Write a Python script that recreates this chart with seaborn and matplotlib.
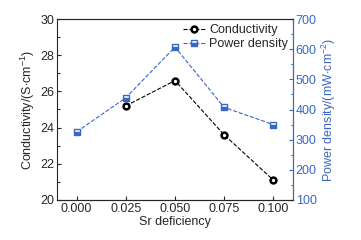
import matplotlib
matplotlib.use("Agg")
import matplotlib.pyplot as plt
import seaborn as sns
import pandas as pd
from matplotlib.ticker import MultipleLocator

sr = [0.000, 0.025, 0.050, 0.075, 0.100]
cond_x = [0.025, 0.050, 0.075, 0.100]
conductivity = [25.2, 26.6, 23.6, 21.1]
power_density = [326, 439, 607, 407, 350]
xticks = [0.000, 0.025, 0.050, 0.075, 0.100]
xticklabels = ["0.000", "0.025", "0.050", "0.075", "0.100"]

sns.set_style("ticks")
plt.rcParams['font.family'] = ['Liberation Sans', 'DejaVu Sans']
plt.rcParams['font.size'] = 9
plt.rcParams['mathtext.fontset'] = 'custom'
plt.rcParams['mathtext.rm'] = 'Liberation Sans'

blue = '#3a66c4'
fig = plt.figure(figsize=(3.61, 2.40), dpi=100)
ax = fig.add_axes([57/361, 40/240, 236/361, 181/240])
ax2 = ax.twinx()

dfc = pd.DataFrame({'x': cond_x, 'y': conductivity})
dfp = pd.DataFrame({'x': sr, 'y': power_density})

sns.lineplot(data=dfc, x='x', y='y', ax=ax, color='black', linestyle='--', linewidth=0.8,
             marker='o', markersize=4.2, markerfacecolor='white', markeredgecolor='black',
             markeredgewidth=1.8, label='Conductivity', legend=False)
sns.lineplot(data=dfp, x='x', y='y', ax=ax2, color=blue, linestyle='--', linewidth=0.8,
             marker='s', markersize=4.5, fillstyle='bottom', markerfacecolor=blue,
             markerfacecoloralt='white', markeredgecolor=blue, markeredgewidth=1.0,
             label='Power density', legend=False)

ax.set_xlim(-0.01, 0.11)
ax.set_ylim(20, 30)
ax2.set_ylim(100, 700)
ax.set_xticks(xticks)
ax.set_xticklabels(xticklabels)
ax.yaxis.set_major_locator(MultipleLocator(2))
ax.yaxis.set_minor_locator(MultipleLocator(1))
ax2.yaxis.set_major_locator(MultipleLocator(100))
ax2.yaxis.set_minor_locator(MultipleLocator(50))

ax.set_xlabel('Sr deficiency', fontsize=9, labelpad=1)
ax.set_ylabel(r'Conductivity/(S$\cdot$cm$^{-1}$)', fontsize=9, labelpad=2)
ax2.set_ylabel(r'Power density/(mW$\cdot$cm$^{-2}$)', fontsize=9, color=blue, labelpad=2)

ax.tick_params(axis='both', which='both', direction='in', labelsize=9, width=0.8, pad=2)
ax.tick_params(axis='both', which='major', length=3)
ax.tick_params(axis='y', which='minor', length=1.8)
ax.tick_params(axis='y', which='both', right=False)
ax2.tick_params(axis='y', which='both', direction='in', colors=blue, labelsize=9, width=0.8, pad=2)
ax2.tick_params(axis='y', which='major', length=3)
ax2.tick_params(axis='y', which='minor', length=1.8)

for a in (ax, ax2):
    for s in a.spines.values():
        s.set_linewidth(0.8)
ax2.spines['right'].set_color(blue)
ax2.spines['left'].set_visible(False)

h1, l1 = ax.get_legend_handles_labels()
h2, l2 = ax2.get_legend_handles_labels()
leg = ax2.legend(h1 + h2, l1 + l2, loc='upper right', frameon=False, fontsize=9,
                 handlelength=1.8, handletextpad=0.3, borderpad=0.2, labelspacing=0.2,
                 borderaxespad=0.2)

fig.savefig('out.png', dpi=100)
